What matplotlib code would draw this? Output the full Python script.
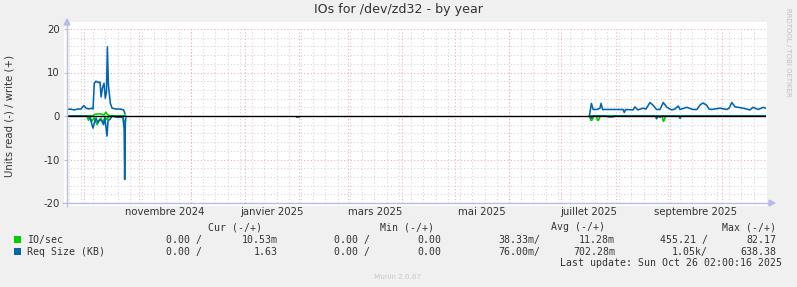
import numpy as np
import matplotlib
matplotlib.use("Agg")
import matplotlib.pyplot as plt
import matplotlib.transforms as mtransforms
from matplotlib.patches import Rectangle
from datetime import datetime, timedelta

# ---------------- data ----------------
start = datetime(2024, 9, 21, 2, 0, 16)
span_days = 400

nan = float("nan")
# day offsets since start, values
req_write_days = [0.0, 1.7, 4.0, 6.3, 8.0, 9.6, 10.9, 12.6, 13.7, 14.9, 15.6, 16.6, 17.7, 18.9,
                  19.5, 20.3, 21.2, 21.9, 22.6, 23.1, 23.7, 24.8, 25.8, 28.0, 30.3, 32.4, 33.2, 33.8,
                  299.0, 300.1, 301.1, 303.3, 305.0, 305.6, 306.5, 318.2, 318.9, 319.6, 323.9, 325.0,
                  326.7, 329.6, 331.3, 333.6, 335.3, 337.4, 339.3, 341.2, 343.3, 346.0, 347.9, 349.8,
                  350.8, 354.6, 358.2, 360.5, 362.2, 363.9, 366.0, 367.4, 368.9, 373.7, 377.5, 378.9,
                  380.4, 382.3, 384.0, 386.9, 390.8, 392.6, 395.5, 398.5, 399.8]
req_write_vals = [1.5, 1.6, 1.4, 1.6, 1.6, 2.4, 1.8, 1.6, 1.8, 1.6, 7.5, 8.0, 7.7, 7.8,
                  4.4, 6.5, 7.5, 4.1, 5.5, 15.9, 7.1, 2.9, 1.8, 1.6, 1.6, 1.4, 0.5, nan,
                  0.2, 2.9, 1.5, 1.5, 1.8, 2.9, 1.5, 1.5, 0.8, 1.5, 1.4, 2.1,
                  1.4, 1.8, 1.6, 3.1, 2.5, 1.5, 1.5, 3.1, 2.0, 1.4, 1.6, 2.3,
                  1.5, 2.0, 1.5, 1.5, 2.5, 3.0, 2.5, 1.6, 1.5, 1.8, 1.5, 1.8,
                  3.1, 2.1, 2.0, 1.8, 1.4, 2.0, 1.5, 2.0, 1.8]

req_read_days = [0.0, 12.0, 13.2, 14.9, 15.7, 16.6, 17.7, 18.9, 20.0, 20.9, 21.7, 22.9, 23.5,
                 24.6, 25.8, 28.6, 32.0, 32.7, 33.0, 33.4, 33.7, 34.0,
                 131.5, 132.8, 133.0,
                 299.0, 300.1, 301.0, 309.0, 309.5, 312.5, 313.0, 337.0, 337.4, 338.0, 339.5,
                 340.0, 350.3, 350.8, 351.5, 399.8]
req_read_vals = [0.0, 0.0, -0.5, -2.8, -1.5, -0.5, -1.5, -0.8, -1.2, -2.0, -0.5, -4.6, -1.0,
                 -0.8, 0.0, -0.3, -0.3, -3.0, -14.6, -1.0, -0.5, nan,
                 -0.2, -0.2, nan,
                 0.0, -0.5, 0.0, 0.0, -0.2, -0.2, 0.0, 0.0, -0.6, 0.0, -0.3,
                 0.0, 0.0, -0.5, 0.0, 0.0]

io_write_days = [0.0, 14.9, 16.0, 18.9, 21.2, 22.3, 23.2, 24.6, 33.5, 34.0, 299.0, 399.8]
io_write_vals = [0.05, 0.05, 0.4, 0.5, 0.3, 0.9, 0.3, 0.05, 0.05, nan, 0.02, 0.02]

io_read_days = [0.0, 11.4, 12.3, 13.2, 14.3, 15.5, 17.2, 18.3, 19.5, 20.6, 21.7, 22.9, 24.0,
                25.8, 32.0, 32.9, 33.5, 34.0,
                131.5, 132.8, 133.0,
                299.0, 299.8, 300.6, 301.3, 302.9, 303.6, 304.3, 305.0, 336.8, 337.4, 338.0,
                340.6, 341.2, 341.8, 342.5, 350.2, 350.8, 351.4, 399.8]
io_read_vals = [0.0, 0.0, -1.0, -0.3, -1.2, -0.4, -2.0, -1.0, -0.5, -1.5, -0.3, -0.8, -0.2,
                0.0, 0.0, -1.8, -1.0, nan,
                -0.2, -0.2, nan,
                0.0, -1.0, -0.9, 0.0, 0.0, -1.0, -0.9, 0.0, 0.0, -0.6, 0.0,
                0.0, -1.2, -1.0, 0.0, 0.0, -0.5, 0.0, 0.0]

y_ticks = [-20, -10, 0, 10, 20]
month_labels = ["novembre 2024", "janvier 2025", "mars 2025", "mai 2025", "juillet 2025", "septembre 2025"]
month_label_dates = [(2024, 11), (2025, 1), (2025, 3), (2025, 5), (2025, 7), (2025, 9)]

legend_rows = [
    ("IO/sec", "#00CC00", ["0.00 /", "10.53m", "0.00 /", "0.00", "38.33m/", "11.28m", "455.21 /", "82.17"]),
    ("Req Size (KB)", "#0066B3", ["0.00 /", "1.63", "0.00 /", "0.00", "76.00m/", "702.28m", "1.05k/", "638.38"]),
]
legend_headers = ["Cur (-/+)", "Min (-/+)", "Avg (-/+)", "Max (-/+)"]

# ---------------- figure ----------------
W, H = 797, 287
fig = plt.figure(figsize=(W / 100, H / 100), dpi=100)
fig.patch.set_facecolor("#F0F0F0")

L, R, T, B = 67, 766, 29, 203


def fx(px):
    return px / W


def fy(py):
    return 1 - py / H


# canvas white
fig.patches.append(Rectangle((fx(64), fy(206)), fx(767) - fx(64), fy(22) - fy(206),
                             transform=fig.transFigure, facecolor="white", edgecolor="none", zorder=-10))

ax = fig.add_axes([fx(L), fy(B), fx(R) - fx(L), fy(T) - fy(B)])
ax.set_zorder(1)
ax.set_facecolor("none")
ax.set_xlim(0, span_days)
ax.set_ylim(-20, 20)
for s in ax.spines.values():
    s.set_visible(False)


def day_of(dt):
    return (dt - start).total_seconds() / 86400.0


# grid: minor weekly (Sundays), major month starts
grey = "#D6D6D6"
red = "#EBB0B0"
dots = (0, (1, 2))
d = datetime(2024, 9, 22)
while day_of(d) < span_days:
    ax.axvline(day_of(d), color=grey, lw=0.8, ls=dots, zorder=1)
    d += timedelta(days=7)
month_starts = []
y, m = 2024, 10
while True:
    dd = datetime(y, m, 1)
    if day_of(dd) > span_days:
        break
    month_starts.append(day_of(dd))
    m += 1
    if m > 12:
        m = 1
        y += 1
for ms in month_starts:
    ax.axvline(ms, color=red, lw=0.8, ls=dots, zorder=1.5)
for v in range(-20, 21, 2):
    if v % 10 == 0:
        ax.axhline(v, color=red, lw=0.8, ls=dots, zorder=1.5)
    else:
        ax.axhline(v, color=grey, lw=0.8, ls=dots, zorder=1)

# data
lw = 1.15
ax.plot(io_write_days, io_write_vals, color="#00CC00", lw=lw, zorder=3)
ax.plot(io_read_days, io_read_vals, color="#00CC00", lw=lw, zorder=3)
ax.plot(req_write_days, req_write_vals, color="#0066B3", lw=lw, zorder=4)
ax.plot(req_read_days, req_read_vals, color="#0066B3", lw=lw, zorder=4)
ax.axhline(0, color="black", lw=1.0, zorder=5)

# axes lines with arrows
axis_c = "#B8BCE6"
fig.add_artist(plt.Line2D([fx(L), fx(L)], [fy(B + 3), fy(24)], color=axis_c, lw=1.0, zorder=2))
fig.add_artist(plt.Line2D([fx(L - 4), fx(R + 3)], [fy(B), fy(B)], color=axis_c, lw=1.0, zorder=2))
fig.patches.append(plt.Polygon([[fx(L - 3), fy(25)], [fx(L + 3), fy(25)], [fx(L), fy(19)]],
                               closed=True, transform=fig.transFigure, color=axis_c, zorder=2))
fig.patches.append(plt.Polygon([[fx(R + 3), fy(B - 3)], [fx(R + 3), fy(B + 3)], [fx(R + 9), fy(B)]],
                               closed=True, transform=fig.transFigure, color=axis_c, zorder=2))

ax.set_xticks([])
ax.set_yticks(y_ticks)
ax.set_yticklabels([str(v) for v in y_ticks])
ax.tick_params(axis="y", length=2, color=axis_c, labelsize=7.3, labelcolor="#333333", pad=3)

# month labels centered on mid-month
lab_tr = mtransforms.blended_transform_factory(ax.transData, fig.transFigure)
for lab, (yy, mm) in zip(month_labels, month_label_dates):
    a = day_of(datetime(yy, mm, 1))
    nm = mm + 1
    ny = yy
    if nm > 12:
        nm = 1
        ny += 1
    b = day_of(datetime(ny, nm, 1))
    ax.text((a + b) / 2, fy(212), lab, transform=lab_tr,
            ha="center", va="center", fontsize=7.3, color="#333333")

# title & labels
fig.text(0.5, fy(9), "IOs for /dev/zd32 - by year", ha="center", va="center", fontsize=9.1, color="#333333")
fig.text(fx(10), fy(116), "Units read (-) / write (+)", rotation=90, ha="center", va="center",
         fontsize=7.3, color="#333333")
fig.text(fx(788), fy(52), "RRDTOOL / TOBI OETIKER", rotation=270, ha="center", va="center",
         fontsize=5.0, color="#C0C0C0")

# legend
mono = "DejaVu Sans Mono"
fs = 7.1
tc = "#333333"
header_right = [262, 434, 605, 776]
for h, xr in zip(legend_headers, header_right):
    fig.text(fx(xr), fy(227), h, ha="right", va="center", fontsize=fs, family=mono, color=tc)
col_right = [202, 278, 370, 441, 540, 615, 708, 776]
for i, (name, col, vals) in enumerate(legend_rows):
    yy = 240 + 12 * i
    fig.patches.append(Rectangle((fx(14), fy(yy + 3)), fx(7), fy(0) - fy(7),
                                 transform=fig.transFigure, facecolor=col, edgecolor="none"))
    fig.text(fx(27), fy(yy), name, ha="left", va="center", fontsize=fs, family=mono, color=tc)
    for v, xr in zip(vals, col_right):
        fig.text(fx(xr), fy(yy), v, ha="right", va="center", fontsize=fs, family=mono, color=tc)
fig.text(fx(782), fy(263), "Last update: Sun Oct 26 02:00:16 2025", ha="right", va="center",
         fontsize=fs, family=mono, color=tc)
fig.text(fx(398), fy(277), "Munin 2.0.67", ha="center", va="center", fontsize=5.2, color="#C8C8C8")

fig.savefig("out.png", dpi=100, facecolor=fig.get_facecolor())
